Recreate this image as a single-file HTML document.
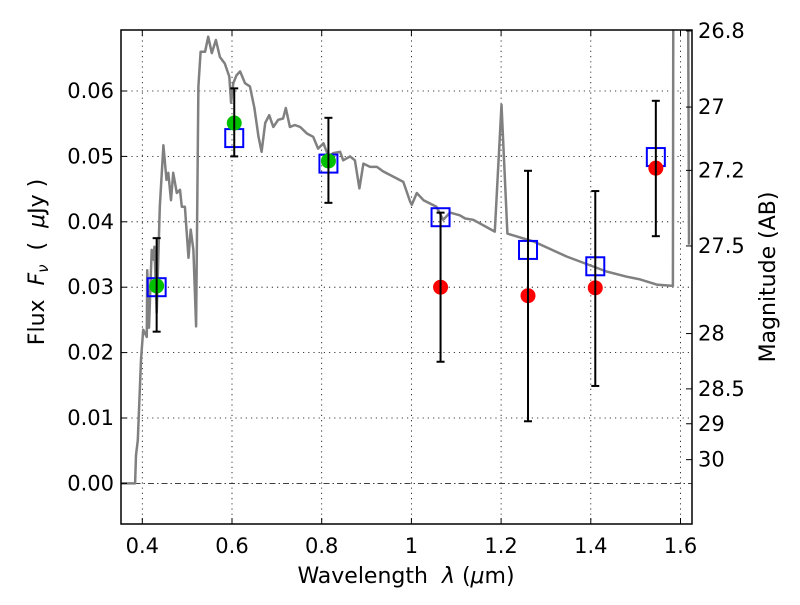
<!DOCTYPE html>
<html><head><meta charset="utf-8"><style>
body{margin:0;background:#fff}
svg text{font-family:"DejaVu Sans","Liberation Sans",sans-serif;fill:#000;white-space:pre}
</style></head><body>
<svg id="chart" width="800" height="600" xmlns="http://www.w3.org/2000/svg">
<defs><clipPath id="clip"><rect x="121" y="30" width="571" height="494"/></clipPath></defs>
<g id="grid"></g>
<g id="marks" clip-path="url(#clip)"></g>
<rect x="121" y="30" width="571" height="494" fill="none" stroke="#000" stroke-width="1.5"/>
<g id="ticks"></g>
<text x="406" y="583" font-size="22" text-anchor="middle">Wavelength  <tspan font-style="italic">λ</tspan> (<tspan font-style="italic">μ</tspan>m)</text>
<text transform="translate(44,262) rotate(-90)" font-size="22" text-anchor="middle">Flux  <tspan font-style="italic">F</tspan><tspan font-style="italic" font-size="15" dy="4">ν</tspan><tspan dy="-4">  (  </tspan><tspan font-style="italic">μ</tspan>Jy )</text>
<text transform="translate(775,277) rotate(-90)" font-size="22" text-anchor="middle">Magnitude (AB)</text>
</svg>
<script>
const specLam=[0.352,0.384,0.386,0.390,0.397,0.402,0.410,0.411,0.415,0.421,0.425,0.427,0.432,0.439,0.447,0.454,0.458,0.464,0.469,0.477,0.484,0.488,0.495,0.503,0.508,0.514,0.520,0.525,0.530,0.540,0.547,0.555,0.564,0.573,0.584,0.594,0.598,0.603,0.610,0.618,0.629,0.640,0.650,0.659,0.666,0.674,0.683,0.692,0.703,0.714,0.720,0.729,0.740,0.752,0.767,0.781,0.792,0.804,0.815,0.826,0.841,0.848,0.863,0.874,0.884,0.893,0.908,0.923,0.937,0.960,0.982,0.997,1.001,1.012,1.027,1.056,1.071,1.086,1.108,1.120,1.138,1.186,1.201,1.214,1.272,1.346,1.435,1.480,1.510,1.547,1.583,1.584,1.617,1.619];
const specFlux=[0,0,0.0043,0.0066,0.0189,0.0235,0.0224,0.0326,0.0238,0.0357,0.0342,0.0362,0.0261,0.0423,0.0517,0.0464,0.0475,0.0433,0.0475,0.0444,0.0449,0.0423,0.0423,0.0345,0.0388,0.0357,0.0240,0.0607,0.0660,0.0660,0.0683,0.0658,0.0678,0.0652,0.0642,0.0622,0.0582,0.0612,0.0624,0.0630,0.0612,0.0607,0.0574,0.0530,0.0507,0.0551,0.0563,0.0545,0.0556,0.0558,0.0574,0.0545,0.0548,0.0545,0.0535,0.0530,0.0512,0.0520,0.0500,0.0505,0.0507,0.0494,0.0500,0.0494,0.0451,0.0489,0.0484,0.0484,0.0477,0.0469,0.0461,0.0431,0.0426,0.0444,0.0433,0.0423,0.0403,0.0414,0.0410,0.0405,0.0403,0.0385,0.0579,0.0382,0.0370,0.0347,0.0324,0.0316,0.0312,0.0304,0.0302,0.075,0.075,0.0365];
const obsLam=[0.432,0.605,0.815,1.065,1.26,1.41,1.545];
const obsFlux=[0.0302,0.0551,0.0493,0.0300,0.0287,0.0299,0.0482];
const obsErrHi=[0.0375,0.0604,0.0559,0.0414,0.0478,0.0447,0.0585];
const obsErrLo=[0.0232,0.0500,0.0429,0.0186,0.0095,0.0149,0.0378];
const obsDetected=[true,true,true,false,false,false,false];
const modelFlux=[0.0300,0.0528,0.0489,0.0407,0.0357,0.0332,0.0499];
const xTicks=[0.4,0.6,0.8,1.0,1.2,1.4,1.6];
const xTickLabels=["0.4","0.6","0.8","1","1.2","1.4","1.6"];
const yTicks=[0,0.01,0.02,0.03,0.04,0.05,0.06];
const yTickLabels=["0.00","0.01","0.02","0.03","0.04","0.05","0.06"];
const magTicks=[26.8,27,27.2,27.5,28,28.5,29,30];
const magLabels=["26.8","27","27.2","27.5","28","28.5","29","30"];

const X=l=>142.3+(l-0.4)*448.5;
const Y=f=>483.4-f*6540;
const magY=m=>Y(Math.pow(10,(23.9-m)/2.5));
const NS="http://www.w3.org/2000/svg";
function mk(tag,attrs,parent){const e=document.createElementNS(NS,tag);for(const k in attrs)e.setAttribute(k,attrs[k]);parent.appendChild(e);return e;}
const grid=document.getElementById('grid'),marks=document.getElementById('marks'),ticks=document.getElementById('ticks');

xTicks.forEach((v,i)=>{
  const x=X(v);
  const g=mk('line',{x1:x,y1:30,x2:x,y2:524,stroke:'#000','stroke-width':0.8,'stroke-dasharray':'1.2,4'},grid);
  
  
  mk('line',{x1:x,y1:524,x2:x,y2:518,stroke:'#000','stroke-width':1},ticks);
  mk('line',{x1:x,y1:30,x2:x,y2:36,stroke:'#000','stroke-width':1},ticks);
  const t=mk('text',{x:x,y:553,'font-size':21,'text-anchor':'middle'},ticks);
  t.textContent=xTickLabels[i];
  
  
});
yTicks.forEach((v,i)=>{
  const y=Y(v);
  const g=mk('line',{x1:121,y1:y,x2:692,y2:y,stroke:'#000','stroke-width':0.8,'stroke-dasharray':v===0?'6,3,1.5,3':'1.2,4'},grid);
  
  
  mk('line',{x1:121,y1:y,x2:127,y2:y,stroke:'#000','stroke-width':1},ticks);
  const t=mk('text',{x:114,y:y+7,'font-size':21,'text-anchor':'end'},ticks);
  t.textContent=yTickLabels[i];
  
  
});
magTicks.forEach((m,i)=>{
  const y=magY(m);
  mk('line',{x1:686,y1:y,x2:692,y2:y,stroke:'#000','stroke-width':1},ticks);
  const t=mk('text',{x:698,y:y+7,'font-size':21,'text-anchor':'start'},ticks);
  t.textContent=magLabels[i];
  
  
});

const pts=specLam.map((l,i)=>X(l).toFixed(1)+','+Y(specFlux[i]).toFixed(1)).join(' ');
const sp=mk('polyline',{points:pts,fill:'none',stroke:'#808080','stroke-width':2.5,'stroke-linejoin':'round'},marks);



obsLam.forEach((l,i)=>{
  const x=X(l);
  const s=mk('rect',{x:x-9,y:Y(modelFlux[i])-9,width:18,height:18,fill:'none',stroke:'#0000ff','stroke-width':2},marks);
  
  
  const c=mk('circle',{cx:x,cy:Y(obsFlux[i]),r:7.5,fill:obsDetected[i]?'#00c000':'#ff0000'},marks);
  
  
  const e=mk('g',{stroke:'#000','stroke-width':2},marks);
  
  
  mk('line',{x1:x,y1:Y(obsErrHi[i]),x2:x,y2:Y(obsErrLo[i])},e);
  mk('line',{x1:x-4,y1:Y(obsErrHi[i]),x2:x+4,y2:Y(obsErrHi[i])},e);
  mk('line',{x1:x-4,y1:Y(obsErrLo[i]),x2:x+4,y2:Y(obsErrLo[i])},e);
});
</script>
</body></html>
